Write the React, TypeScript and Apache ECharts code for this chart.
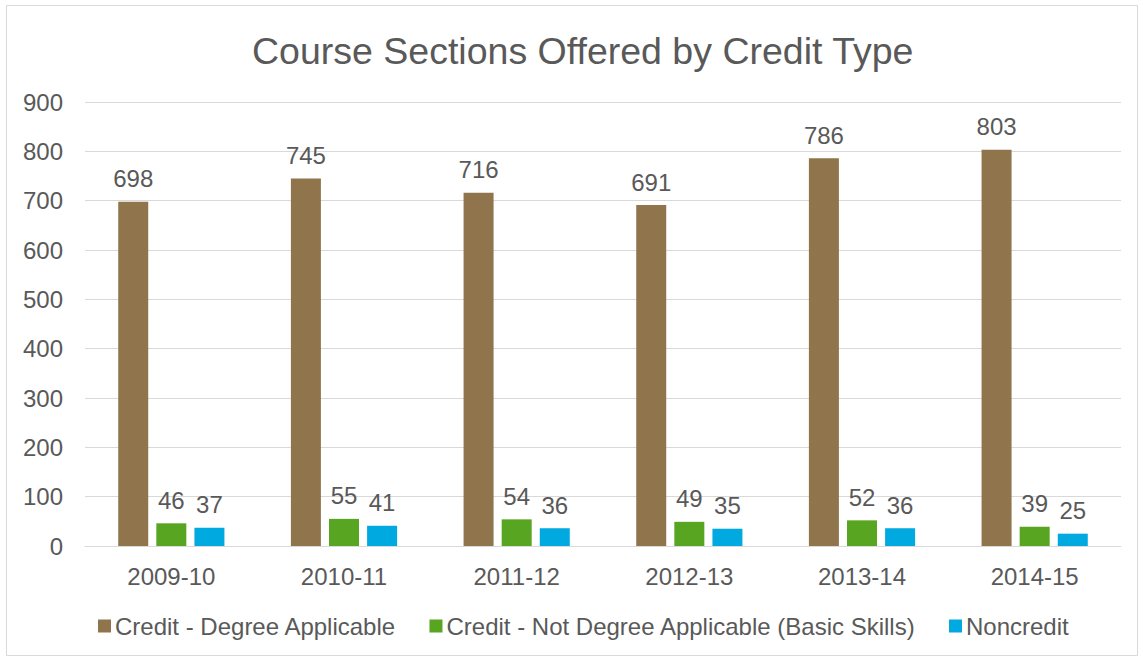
import React, { useEffect, useRef } from "react";
import * as echarts from "echarts";

const categories = ["2009-10", "2010-11", "2011-12", "2012-13", "2013-14", "2014-15"];
const degreeApplicable = [698, 745, 716, 691, 786, 803];
const basicSkills = [46, 55, 54, 49, 52, 39];
const noncredit = [37, 41, 36, 35, 36, 25];
const seriesNames = [
  "Credit - Degree Applicable",
  "Credit - Not Degree Applicable (Basic Skills)",
  "Noncredit",
];
const colors = ["#8F744C", "#57A520", "#00A9E0"];

const FONT = "'Liberation Sans', Arial, sans-serif";
const TEXT = "#595959";

export default function App() {
  const ref = useRef<HTMLDivElement>(null);
  useEffect(() => {
    if (!ref.current) return;
    const chart = echarts.init(ref.current, undefined, { renderer: "svg" });
    const mk = (name: string, data: number[], color: string) => ({
      name,
      type: "bar",
      data,
      barWidth: 30,
      barGap: "27%",
      itemStyle: { color },
      label: {
        show: true,
        position: "top",
        distance: 11,
        color: TEXT,
        fontSize: 24,
        fontFamily: FONT,
      },
    });
    chart.setOption({
      animation: false,
      backgroundColor: "#ffffff",
      textStyle: { fontFamily: FONT },
      title: {
        text: "Course Sections Offered by Credit Type",
        left: 247,
        top: 27,
        textStyle: { color: TEXT, fontSize: 37.5, fontWeight: "normal", fontFamily: FONT },
      },
      legend: {
        bottom: 17,
        left: 93,
        itemWidth: 13,
        itemHeight: 13,
        itemGap: 33,
        icon: "rect",
        textStyle: { color: TEXT, fontSize: 24, fontFamily: FONT, padding: [0, 0, 0, -1] },
        data: seriesNames,
      },
      grid: { left: 85, right: 22, top: 102, bottom: 114, containLabel: false },
      xAxis: {
        type: "category",
        data: categories,
        axisLine: { lineStyle: { color: "#d9d9d9", width: 1 } },
        axisTick: { show: false },
        axisLabel: { color: TEXT, fontSize: 24, fontFamily: FONT, margin: 18 },
      },
      yAxis: {
        type: "value",
        min: 0,
        max: 900,
        interval: 100,
        axisLine: { show: false },
        axisTick: { show: false },
        splitLine: { lineStyle: { color: "#d9d9d9", width: 1 } },
        axisLabel: { color: TEXT, fontSize: 24, fontFamily: FONT, margin: 22 },
      },
      graphic: [
        {
          type: "rect",
          shape: { x: 6.5, y: 5.5, width: 1131, height: 650 },
          style: { fill: "none", stroke: "#d9d9d9", lineWidth: 1 },
          silent: true,
          z: -1,
        },
      ],
      series: [
        mk(seriesNames[0], degreeApplicable, colors[0]),
        mk(seriesNames[1], basicSkills, colors[1]),
        mk(seriesNames[2], noncredit, colors[2]),
      ],
    });
    return () => chart.dispose();
  }, []);
  return (
    <div
      ref={ref}
      style={{ position: "absolute", left: 0, top: 0, width: 1143, height: 660 }}
    />
  );
}
